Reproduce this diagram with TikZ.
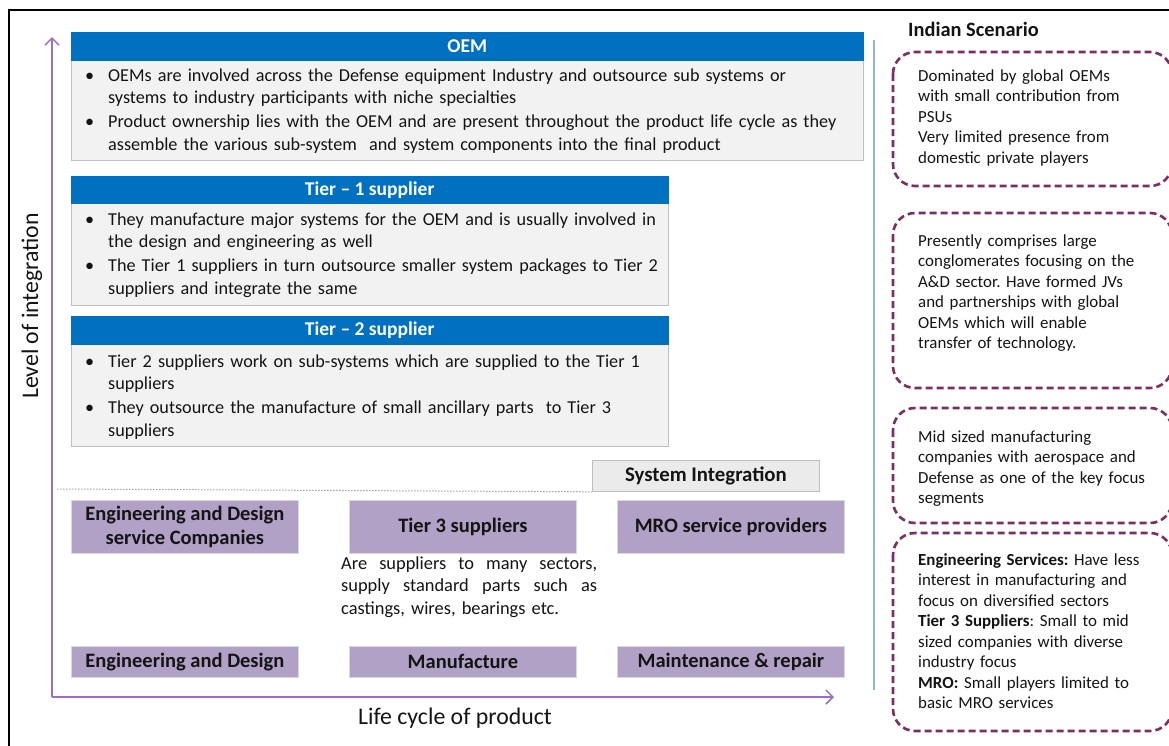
\documentclass[tikz,border=0pt]{standalone}
\usepackage{fontspec}
\setmainfont{Carlito}
\usetikzlibrary{arrows.meta}
\definecolor{hdrblue}{RGB}{0,112,192}
\definecolor{bodygray}{RGB}{242,242,242}
\definecolor{bordergray}{RGB}{191,191,191}
\definecolor{lilac}{RGB}{178,161,199}
\definecolor{axispurple}{RGB}{155,110,190}
\definecolor{sepblue}{RGB}{149,179,215}
\definecolor{maroon}{RGB}{125,45,95}
\definecolor{txt}{RGB}{20,20,20}
\newcommand{\bl}{\makebox[24pt][l]{\hspace{1pt}•}}
\newcommand{\ind}{\hspace*{24pt}}
\frenchspacing
\begin{document}
\frenchspacing
\begin{tikzpicture}[x=1pt,y=-1pt,
  hdr/.style={fill=hdrblue,draw=hdrblue,anchor=north west,inner sep=0pt,text=white,font=\bfseries\fontsize{19.5}{22}\selectfont},
  bodybox/.style={fill=bodygray,draw=bordergray,line width=0.8pt,anchor=north west,inner sep=0pt},
  bodytext/.style={anchor=base west,inner sep=0pt,align=left,text=txt,font=\fontsize{18.2}{22.5}\selectfont},
  lbox/.style={fill=lilac,draw=black!15,line width=0.8pt,anchor=north west,inner sep=0pt,align=center,text=txt,font=\bfseries\fontsize{20.5}{24}\selectfont},
  sibox/.style={fill=black!8,draw=bordergray,line width=0.8pt,anchor=north west,inner sep=0pt,text=txt,font=\bfseries\fontsize{20.8}{22}\selectfont},
  dbox/.style={draw=maroon,line width=2.6pt,dash pattern=on 7pt off 4pt,rounded corners=22pt},
  sidetext/.style={anchor=base west,inner sep=0pt,align=left,text width=250pt,text=txt,font=\fontsize{16.9}{20.5}\selectfont},
  axis/.style={draw=axispurple,line width=1.8pt,-{Straight Barb[length=7pt,width=14pt,line width=1.5pt]}},
  axlabel/.style={inner sep=0pt,text=txt,font=\fontsize{23.8}{26}\selectfont}
]
\useasboundingbox (0,0) rectangle (1169,745);
\fill[white] (0,0) rectangle (1169,745);
% frame
\draw[line width=2pt] (8.5,760) -- (8.5,9.5) -- (1180,9.5);

% axes
\coordinate (org) at (52,697);
\coordinate (ytop) at (52,37);
\coordinate (xend) at (834,697);
\draw[axis] (org) -- (ytop);
\draw[axis] (org) -- (xend);
\node[axlabel,rotate=90] (ylab) at (32,306) {Level of integration};
\node[axlabel] (xlab) at (455,718) {Life cycle of product};

% OEM
\node[bodybox,minimum width=792pt,minimum height=101pt] (oemb) at (71,59) {};
\node[hdr,minimum width=792pt,minimum height=28pt] (oemh) at (71,32) {OEM};
\node[bodytext,text width=760pt] (oemt) at (84,81) {\bl OEMs are involved across the Defense equipment Industry and outsource sub systems or\\
\ind systems to industry participants with niche specialties\\[1.5pt]
\bl Product ownership lies with the OEM and are present throughout the product life cycle as they\\
\ind assemble the various sub-system\ \ and system components into the final product};

% Tier 1
\node[bodybox,minimum width=597pt,minimum height=103pt] (t1b) at (71,202) {};
\node[hdr,minimum width=597pt,minimum height=27pt] (t1h) at (71,176) {Tier -- 1 supplier};
\node[bodytext,text width=580pt] (t1t) at (84,225) {\bl They manufacture major systems for the OEM and is usually involved in\\
\ind the design and engineering as well\\[1.5pt]
\bl The Tier 1 suppliers in turn outsource smaller system packages to Tier 2\\
\ind suppliers and integrate the same};

% Tier 2
\node[bodybox,minimum width=597pt,minimum height=103pt] (t2b) at (71,343) {};
\node[hdr,minimum width=597pt,minimum height=28pt] (t2h) at (71,316) {Tier -- 2 supplier};
\node[bodytext,text width=580pt] (t2t) at (84,367) {\bl Tier 2 suppliers work on sub-systems which are supplied to the Tier 1\\
\ind suppliers\\[1.5pt]
\bl They outsource the manufacture of small ancillary parts\ \ to Tier 3\\
\ind suppliers};

% dotted separator + system integration
\node[sibox,minimum width=227pt,minimum height=31pt] (si) at (592,460) {System Integration};
\coordinate (dotl) at (57,489);
\draw[black!35,line width=1pt,dash pattern=on 1.5pt off 1.5pt] (dotl) -- (si.south west);

% lilac boxes row 1
\node[lbox,minimum width=227pt,minimum height=53pt] (eds) at (71,500) {Engineering and Design\\service Companies};
\node[lbox,minimum width=227pt,minimum height=53pt] (t3) at (349,500) {Tier 3 suppliers};
\node[lbox,minimum width=227pt,minimum height=53pt] (mro) at (617,500) {MRO service providers};
\node[anchor=base west,inner sep=0pt,align=left,text width=256pt,text=txt,font=\fontsize{18.4}{22.5}\selectfont] (t3t) at (341,569)
 {\makebox[256pt][l]{Are\hfill suppliers\hfill to\hfill many\hfill sectors,}\\
  \makebox[256pt][l]{supply\hfill standard\hfill parts\hfill such\hfill as}\\
  castings, wires, bearings etc.};

% lilac boxes row 2
\node[lbox,minimum width=227pt,minimum height=31pt] (ed) at (71,646) {Engineering and Design};
\node[lbox,minimum width=227pt,minimum height=31pt] (mf) at (349,646) {Manufacture};
\node[lbox,minimum width=227pt,minimum height=31pt] (mr) at (617,646) {Maintenance \& repair};

% separator line
\coordinate (sept) at (874,40);
\coordinate (sepb) at (874,690);
\draw[sepblue,line width=1.8pt] (sept) -- (sepb);

% Indian scenario
\node[anchor=base west,inner sep=0pt,text=txt,font=\bfseries\fontsize{20.4}{22}\selectfont] (ind) at (908,36) {Indian Scenario};
\draw[dbox] (893,52) rectangle (1172,186);
\draw[dbox] (893,213) rectangle (1172,388);
\draw[dbox] (893,408) rectangle (1172,523);
\draw[dbox] (893,533) rectangle (1172,731);

\node[sidetext] (s1) at (918,81) {Dominated by global OEMs\\with small contribution from\\PSUs\\Very limited presence from\\domestic private players};
\node[sidetext] (s2) at (918,246) {Presently comprises large\\conglomerates focusing on the\\A\&D sector. Have formed JVs\\and partnerships with global\\OEMs which will enable\\transfer of technology.};
\node[sidetext] (s3) at (918,442) {Mid sized manufacturing\\companies with aerospace and\\Defense as one of the key focus\\segments};
\node[sidetext] (s4) at (918,565) {\textbf{Engineering Services:} Have less\\interest in manufacturing and\\focus on diversified sectors\\\textbf{Tier 3 Suppliers}: Small to mid\\sized companies with diverse\\industry focus\\\textbf{MRO:} Small players limited to\\basic MRO services};
\end{tikzpicture}
\end{document}
